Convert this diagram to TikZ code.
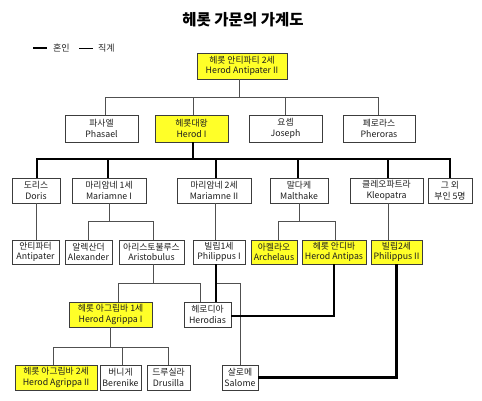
\documentclass[tikz,border=0pt]{standalone}
\usepackage{fontspec}
\setmainfont{Noto Sans CJK KR}
\begin{document}
\begin{tikzpicture}[x=1pt,y=-1pt,
  box/.style={draw={rgb,255:red,60;green,60;blue,60}, line width=0.9pt, fill=white, inner sep=0pt,
    align=center, font=\fontsize{8.8}{10.5}\selectfont, text={rgb,255:red,30;green,30;blue,30}},
  ybox/.style={box, fill={rgb,255:red,255;green,255;blue,40}},
  thinline/.style={draw={rgb,255:red,80;green,80;blue,80}, line width=1pt},
  thickline/.style={draw=black, line width=2.6pt}]
\useasboundingbox (0,0) rectangle (482,400);
\fill[white] (0,0) rectangle (482,400);
% title
\node[font=\fontsize{15.5}{17}\selectfont\bfseries] (title) at (243,20) {헤롯 가문의 가계도};
% legend
\coordinate (l1a) at (33,48); \coordinate (l1b) at (47,48);
\coordinate (l2a) at (79,48); \coordinate (l2b) at (93,48);
\draw[draw=black, line width=2.4pt] (l1a) -- (l1b);
\draw[draw=black, line width=0.9pt] (l2a) -- (l2b);
\node[font=\fontsize{9}{10}\selectfont, anchor=west, inner sep=0pt, text={rgb,255:red,40;green,40;blue,40}] (lg1) at (53,48) {혼인};
\node[font=\fontsize{9}{10}\selectfont, anchor=west, inner sep=0pt, text={rgb,255:red,40;green,40;blue,40}] (lg2) at (98,48) {직계};
% row 1
\node[ybox, minimum width=90, minimum height=26] (apII) at (242,66) {헤롯 안티파티 2세\\Herod Antipater II};
% row 2
\node[box, minimum width=73, minimum height=27] (phasael) at (101.5,128.5) {파사엘\\Phasael};
\node[ybox, minimum width=73, minimum height=27] (herodI) at (191.5,128.5) {헤롯대왕\\Herod I};
\node[box, minimum width=73, minimum height=27] (joseph) at (285.5,128.5) {요셉\\Joseph};
\node[box, minimum width=72, minimum height=27] (pheroras) at (379,128.5) {페로라스\\Pheroras};
% row 3
\node[box, minimum width=48, minimum height=25] (doris) at (36,190.5) {도리스\\Doris};
\node[box, minimum width=74, minimum height=25] (marI) at (109,190.5) {마리암네 1세\\Mariamne I};
\node[box, minimum width=74, minimum height=25] (marII) at (214,190.5) {마리암네 2세\\Mariamne II};
\node[box, minimum width=58, minimum height=25] (malthake) at (299,190.5) {말다케\\Malthake};
\node[box, minimum width=73, minimum height=25] (kleo) at (386.5,190.5) {클레오파트라\\Kleopatra};
\node[box, minimum width=44, minimum height=25] (others) at (450,190.5) {그 외\\부인 5명};
% row 4
\node[box, minimum width=47, minimum height=24] (antipater) at (35.5,252) {안티파터\\Antipater};
\node[box, minimum width=47, minimum height=24] (alexander) at (88.5,252) {알렉산더\\Alexander};
\node[box, minimum width=65, minimum height=24] (aristobulus) at (151.5,252) {아리스토불루스\\Aristobulus};
\node[box, minimum width=52, minimum height=24] (philI) at (219,252) {빌립1세\\Philippus I};
\node[ybox, minimum width=46, minimum height=24] (archelaus) at (274,252) {아켈라오\\Archelaus};
\node[ybox, minimum width=64, minimum height=24] (antipas) at (334,252) {헤롯 안디바\\Herod Antipas};
\node[ybox, minimum width=51, minimum height=24] (philII) at (396.5,252) {빌립2세\\Philippus II};
% row 5
\node[ybox, minimum width=83, minimum height=25] (agrippaI) at (110.5,314.5) {헤롯 아그립바 1세\\Herod Agrippa I};
\node[box, minimum width=47, minimum height=25] (herodias) at (207.5,314.5) {헤로디아\\Herodias};
% row 6
\node[ybox, minimum width=82, minimum height=25] (agrippaII) at (56,377.5) {헤롯 아그립바 2세\\Herod Agrippa II};
\node[box, minimum width=41, minimum height=25] (berenike) at (120.5,377.5) {버니게\\Berenike};
\node[box, minimum width=43, minimum height=25] (drusilla) at (168.5,377.5) {드루실라\\Drusilla};
\node[box, minimum width=36, minimum height=25] (salome) at (240,377.5) {살로메\\Salome};
% bar levels
\coordinate (b1) at (0,97);
\coordinate (b2) at (0,159);
\coordinate (b3) at (0,221);
\coordinate (b4) at (0,283);
\coordinate (b5) at (0,347);
% thin connectors (descent)
\draw[thinline] ([xshift=-3]apII.south) -- ([xshift=-3]apII.south |- b1);
\draw[thinline] ([xshift=3.5]phasael.north) -- ([xshift=3.5]phasael.north |- b1) -- ([xshift=-1]pheroras.north |- b1) -- ([xshift=-1]pheroras.north);
\draw[thinline] ([xshift=1.5]herodI.north) -- ([xshift=1.5]herodI.north |- b1);
\draw[thinline] (joseph.north) -- (joseph.north |- b1);
\draw[thinline] (doris.south) -- (doris.south |- antipater.north);
\draw[thinline] (marI.south) -- (marI.south |- b3);
\draw[thinline] (alexander.north) -- (alexander.north |- b3) -- ([xshift=1.5]aristobulus.north |- b3) -- ([xshift=1.5]aristobulus.north);
\draw[thinline] ([xshift=1]marII.south) -- ([xshift=1]marII.south |- philI.north);
\draw[thinline] (malthake.south) -- (malthake.south |- b3);
\draw[thinline] ([xshift=4]archelaus.north) -- ([xshift=4]archelaus.north |- b3) -- ([xshift=1]antipas.north |- b3) -- ([xshift=1]antipas.north);
\draw[thinline] ([xshift=1.5]kleo.south) -- ([xshift=1.5]kleo.south |- philII.north);
\draw[thinline] ([xshift=1.5]aristobulus.south) -- ([xshift=1.5]aristobulus.south |- b4);
\draw[thinline] ([xshift=7.5]agrippaI.north) -- ([xshift=7.5]agrippaI.north |- b4) -- ([xshift=-7.5]herodias.north |- b4) -- ([xshift=-7.5]herodias.north);
\draw[thinline] ([xshift=8.5]herodias.north |- b4) -- (salome.north |- b4) -- (salome.north);
\draw[thinline] (agrippaI.south) -- (agrippaI.south |- b5);
\draw[thinline] ([xshift=-3]agrippaII.north) -- ([xshift=-3]agrippaII.north |- b5) -- (drusilla.north |- b5) -- (drusilla.north);
\draw[thinline] ([xshift=1.5]berenike.north) -- ([xshift=1.5]berenike.north |- b5);
% thick connectors (marriage)
\draw[thickline] ([xshift=1.5]herodI.south) -- ([xshift=1.5]herodI.south |- b2);
\draw[thickline] ([xshift=1]doris.north) -- ([xshift=1]doris.north |- b2) -- (others.north |- b2) -- (others.north);
\draw[thickline] ([xshift=-1]marI.north) -- ([xshift=-1]marI.north |- b2);
\draw[thickline] ([xshift=2]marII.north) -- ([xshift=2]marII.north |- b2);
\draw[thickline] ([xshift=-1]malthake.north) -- ([xshift=-1]malthake.north |- b2);
\draw[thickline] ([xshift=1.5]kleo.north) -- ([xshift=1.5]kleo.north |- b2);
\draw[thickline] ([xshift=8.5]herodias.north |- philI.south) -- ([xshift=8.5]herodias.north);
\draw[thickline] (antipas.south) |- ([yshift=-1.5]herodias.east);
\draw[thickline] (philII.south) |- (salome.east);
\end{tikzpicture}
\end{document}
